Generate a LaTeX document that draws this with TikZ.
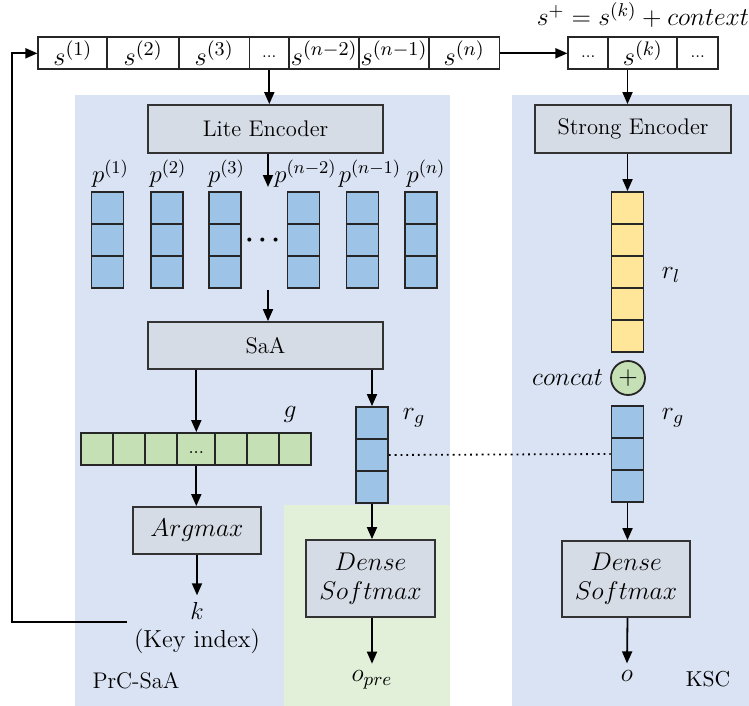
\RequirePackage{fix-cm}
\documentclass[tikz,border=0pt]{standalone}
\usepackage{amsmath}
\usepackage{amssymb}
\usepackage{xcolor}
\usepackage{tikz}
\usetikzlibrary{arrows.meta, positioning}

\DeclareMathSizes{12.4}{12.4}{9}{6.4}
\DeclareMathSizes{12.8}{12.8}{9.3}{6.6}
\DeclareMathSizes{13.2}{13.2}{9.8}{7}

\definecolor{panelblue}{HTML}{DAE3F3}
\definecolor{panelgreen}{HTML}{E2F0D9}
\definecolor{blockgray}{HTML}{D6DCE5}
\definecolor{cellblue}{HTML}{9DC3E6}
\definecolor{cellgreen}{HTML}{C5E0B4}
\definecolor{cellyellow}{HTML}{FFE699}

\begin{document}
\begin{tikzpicture}[x=0.5pt, y=-0.5pt, font=\fontsize{12.8}{14.5}\selectfont,
    plain/.style={font=\fontsize{11.3}{14}\selectfont},
    supx/.style={font=\fontsize{13.2}{15}\selectfont},
    block/.style={draw=black!80, line width=0.9pt, fill=blockgray, inner sep=0pt},
    cell/.style={draw=black!85, line width=0.9pt, minimum width=16pt, minimum height=16pt, inner sep=0pt},
    seqcell/.style={cell, fill=white, minimum width=35pt, supx},
    arr/.style={-{Triangle[length=6pt,width=5pt]}, line width=0.9pt}]
    \useasboundingbox (0,0) rectangle (749,706);

    % Background panels
    \fill[panelblue] (75,95) rectangle (450,706);
    \fill[panelgreen] (284,505) rectangle (450,706);
    \fill[panelblue] (512,95) rectangle (749,706);

    % Input sequence
    \node[seqcell, minimum width=34.5pt] (s1) at (72.8,53.3) {$s^{(1)}$};
    \node[seqcell, minimum width=35.8pt] (s2) at (143.2,53.3) {$s^{(2)}$};
    \node[seqcell, minimum width=35.2pt] (s3) at (214.2,53.3) {$s^{(3)}$};
    \node[seqcell, minimum width=19.8pt] (sd) at (269.3,53.3) {\footnotesize\strut ...};
    \node[seqcell] (sn2) at (324.2,53.3) {$s^{(n-2)}$};
    \node[seqcell] (sn1) at (394,53.3) {$s^{(n-1)}$};
    \node[seqcell, minimum width=35.2pt] (sn) at (464.2,53.3) {$s^{(n)}$};

    % Selected sentence with context
    \node[seqcell, minimum width=20pt] (r1) at (588.3,53.3) {\footnotesize\strut ...};
    \node[seqcell, minimum width=34.5pt] (rk) at (642.8,53.3) {$s^{(k)}$};
    \node[seqcell, minimum width=20.5pt] (r3) at (697.8,53.3) {\footnotesize\strut ...};
    \node (formula) at (643,15) {$s^{+}=s^{(k)}+context$};

    % PrC-SaA side
    \node[block, plain, minimum width=117.5pt, minimum height=24pt] (lite) at (265.5,129) {Lite Encoder};
    \foreach \x/\lx/\t [count=\c] in {107.5/110.5/1, 166.7/168/2, 225.3/226.5/3, 303.5/305.5/n-2, 362.5/370/n-1, 420.8/426/n} {
        \node[font=\fontsize{12.4}{14}\selectfont] (lp\c) at (\lx,174) {$p^{(\t)}$};
        \foreach \i in {1,2,3}
            \node[cell, fill=cellblue] (p\c-\i) at (\x,{176+32*\i}) {};
    }
    \node (pdots) at (265,240) {$\boldsymbol{\cdots}$};
    \coordinate (pin) at (268,187);
    \coordinate (pout) at (268,290);

    \node[block, plain, minimum width=117.5pt, minimum height=23.5pt] (saa) at (265.5,345.5) {SaA};

    \foreach \x [count=\c] in {96.8,129,161.2}
        \node[cell, fill=cellgreen] (g\c) at (\x,449) {};
    \node[cell, fill=cellgreen, minimum width=19pt] (gd) at (196.3,449) {\small\strut ...};
    \foreach \x [count=\c from 5] in {231.2,263,294.8}
        \node[cell, fill=cellgreen] (g\c) at (\x,449) {};
    \node (glab) at (290,414) {$g$};

    \foreach \i in {1,2,3}
        \node[cell, fill=cellblue] (rgA-\i) at (372,{391+32*\i}) {};
    \node (rgAlab) at (414,418) {$r_g$};

    \node[block, minimum width=64pt, minimum height=23.5pt] (argmax) at (197,530.5) {$Argmax$};
    \node[align=center, font=\fontsize{12.3}{14}\selectfont] (keyidx) at (197,628) {$k$\\(Key index)};
    \node[block, minimum width=64.5pt, minimum height=38.5pt, align=center] (denseA) at (370.5,578.5) {$Dense$\\$Softmax$};
    \node (opre) at (372,680) {$o_{pre}$};
    \node[plain] (prc) at (136,681) {PrC-SaA};
    \coordinate (loop) at (12,0);

    % KSC side
    \node[block, plain, minimum width=98pt, minimum height=24pt] (strong) at (633,129) {Strong Encoder};
    \foreach \i in {1,...,5}
        \node[cell, fill=cellyellow] (rl-\i) at (627.5,{176+32*\i}) {};
    \node (rllab) at (671,275) {$r_l$};
    \node[circle, draw=black!85, line width=0.9pt, fill=cellgreen, minimum size=17pt, inner sep=0pt] (plus) at (628,378) {$+$};
    \node[left=0pt of plus] (concat) {$concat$};
    \foreach \i in {1,2,3}
        \node[cell, fill=cellblue] (rgB-\i) at (627.5,{390+32*\i}) {};
    \node (rgBlab) at (673,418) {$r_g$};
    \node[block, minimum width=64pt, minimum height=38pt, align=center] (denseB) at (626,579) {$Dense$\\$Softmax$};
    \node (o) at (627,676) {$o$};
    \node[plain, font=\fontsize{10.8}{13}\selectfont] (ksc) at (708,679) {KSC};

    % Arrows
    \draw[arr] ([yshift=3pt]keyidx.west) -| (loop |- s1.west) -- (s1.west);
    \draw[arr] (sn.east) -- (r1.west);
    \draw[arr] (sd.south) -- (sd.south |- lite.north);
    \draw[arr] (pin |- lite.south) -- (pin);
    \draw[arr] (pout) -- (pout |- saa.north);
    \draw[arr] (gd.north |- saa.south) -- (gd.north);
    \draw[arr] (rgA-1.north |- saa.south) -- (rgA-1.north);
    \draw[arr] (gd.south) -- (gd.south |- argmax.north);
    \draw[arr] (argmax.south) -- (keyidx.north);
    \draw[arr] (rgA-3.south) -- (rgA-3.south |- denseA.north);
    \draw[arr] (rgA-3.south |- denseA.south) -- (opre.north);
    \draw[dotted, line width=0.9pt] (rgA-2.east) -- (rgB-2.west);
    \draw[arr] (rl-1.north |- rk.south) -- (rl-1.north |- strong.north);
    \draw[arr] (rl-1.north |- strong.south) -- (rl-1.north);
    \draw[arr] (rgB-3.south) -- (rgB-3.south |- denseB.north);
    \draw[arr] (rgB-3.south |- denseB.south) -- (o.north);
\end{tikzpicture}
\end{document}
